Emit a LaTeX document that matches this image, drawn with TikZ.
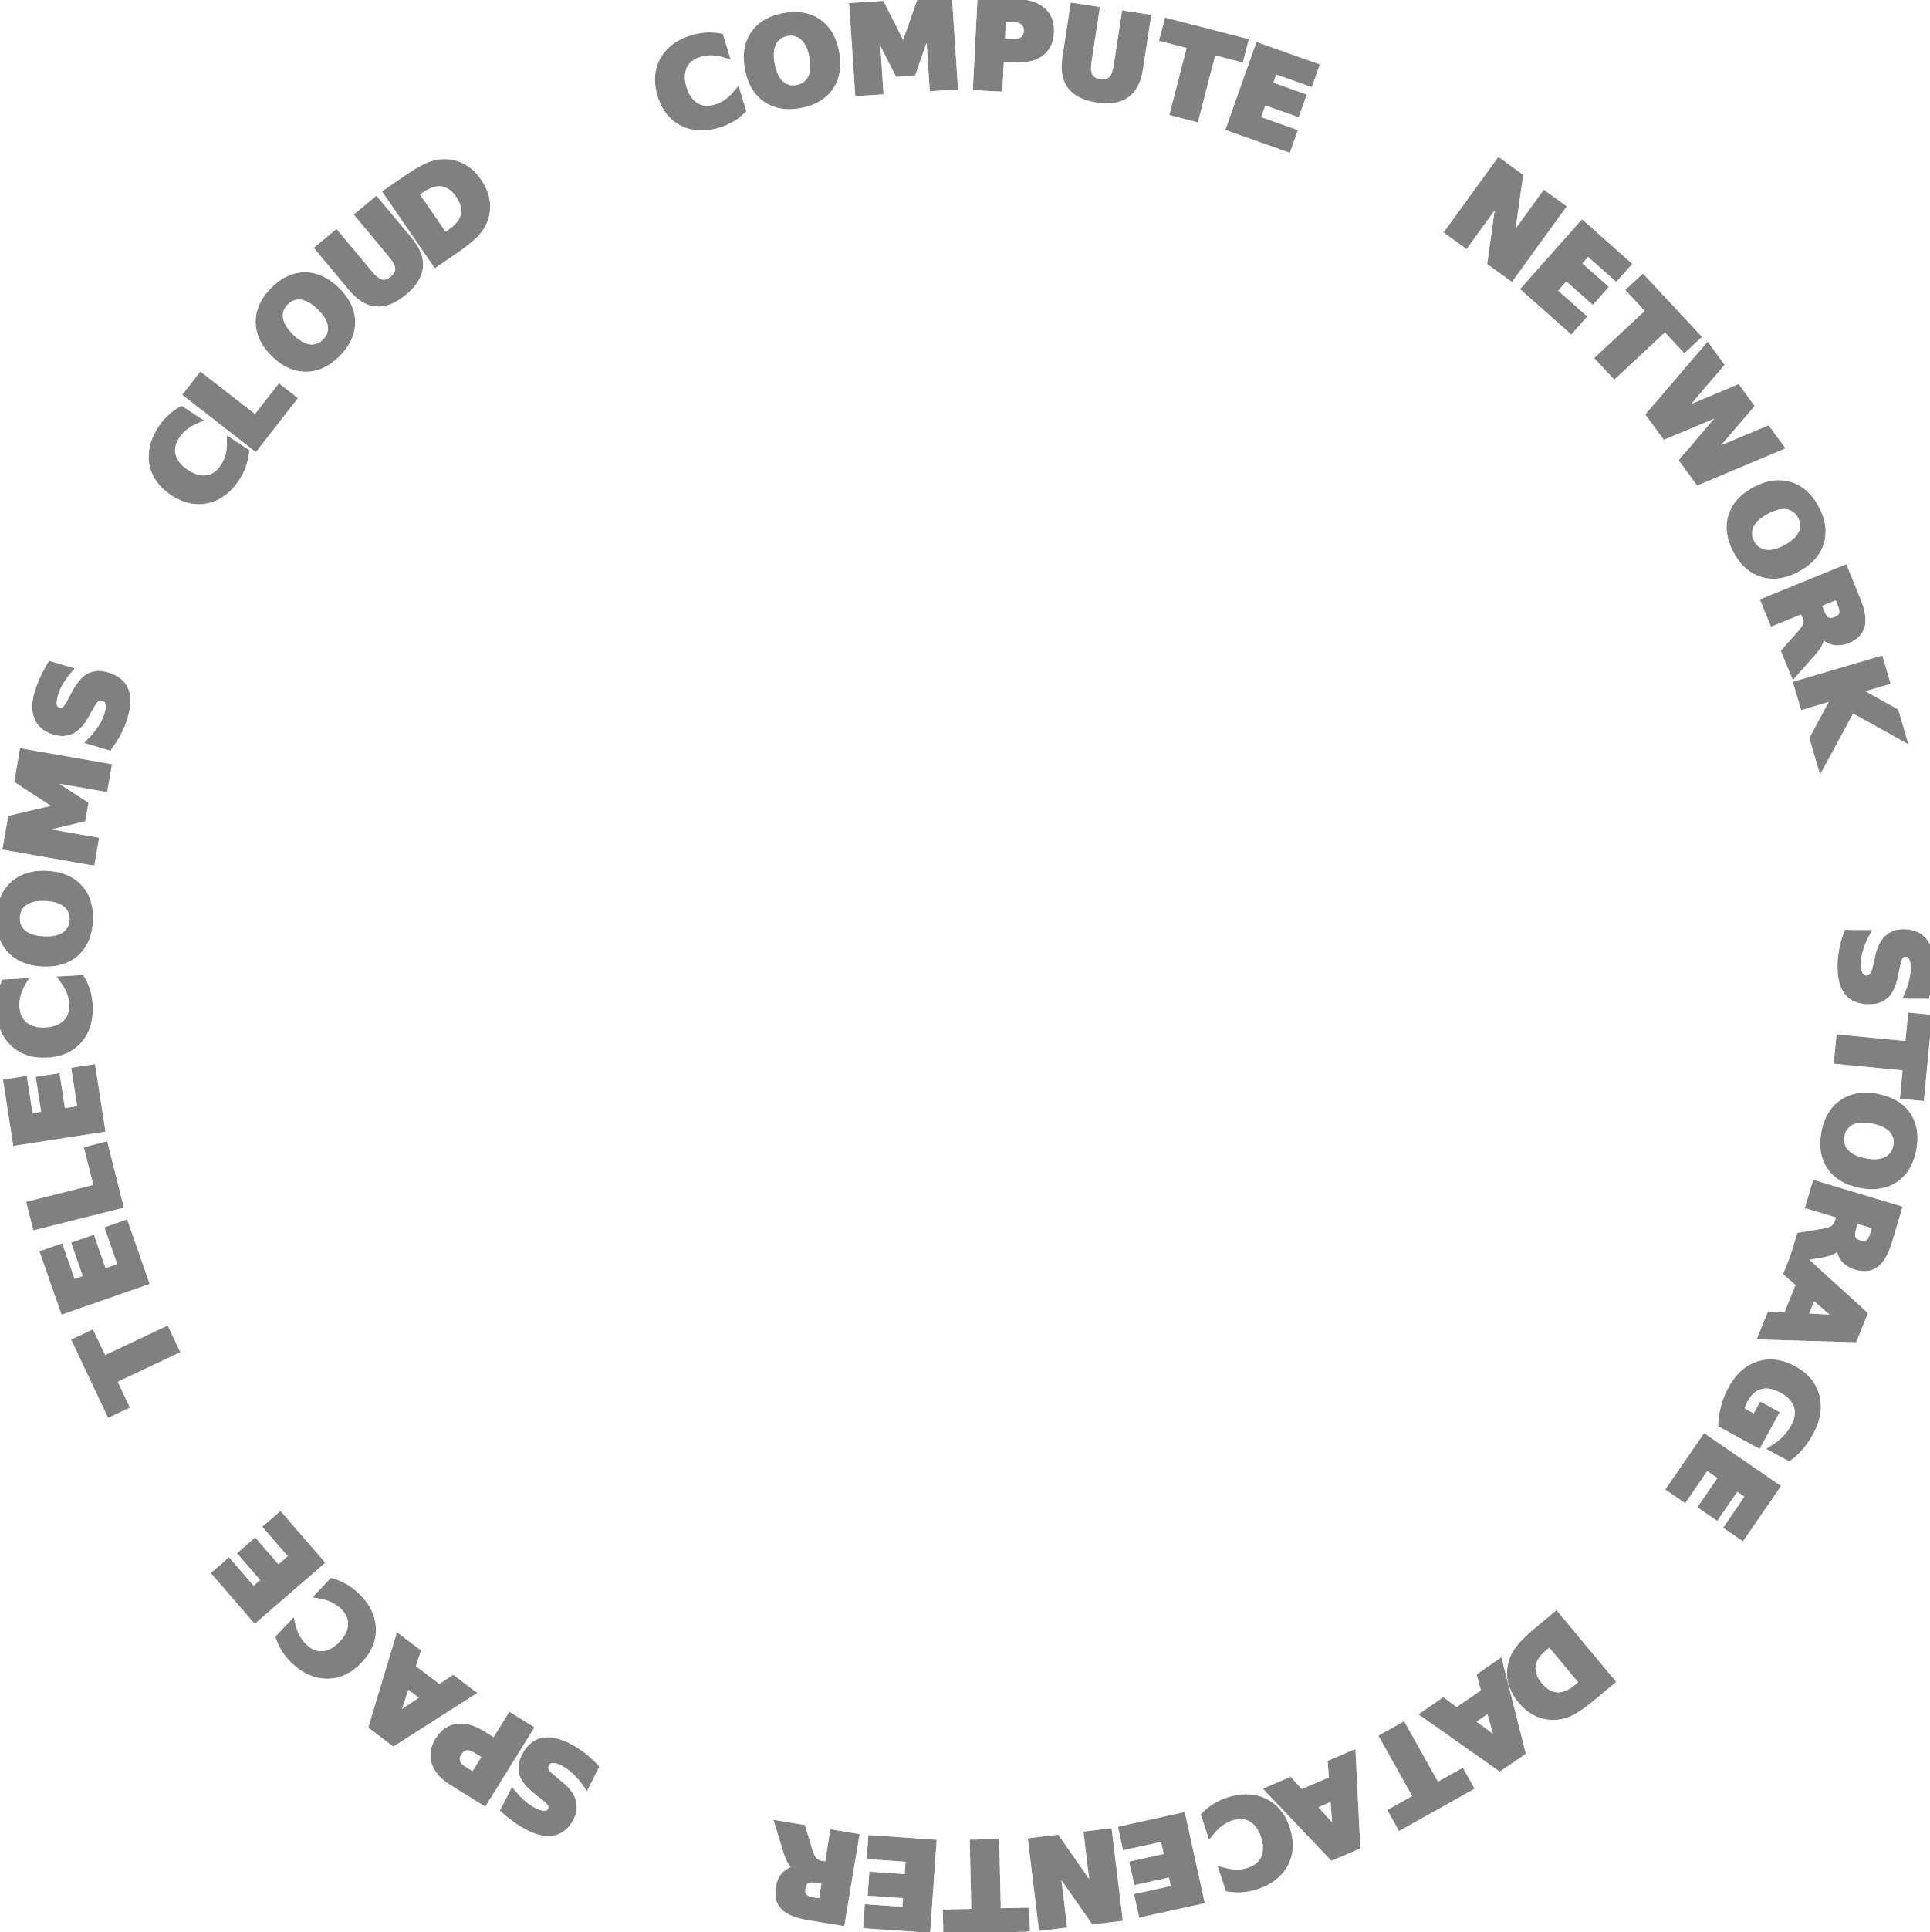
\documentclass[tikz,border=0pt]{standalone}
\usepackage{fontspec}
\newfontfamily\ringfont{DejaVu Sans Bold}[FakeBold=6]
\definecolor{ringgray}{RGB}{128,128,128}
\begin{document}
\begin{tikzpicture}
\useasboundingbox (0,0) rectangle (25,25.04);
\coordinate (ctr) at (12.5,12.53);
\tikzset{letter/.style={anchor=base, inner sep=0pt, outer sep=0pt, text=ringgray, font=\ringfont\fontsize{43.5}{43.5}\selectfont}}
\begin{scope}[shift={(ctr)}]
\foreach \ch/\ang [count=\i] in {
  C/106.9, O/100.8, M/93.8, P/87.1, U/81.3, T/75.5, E/70.5,
  N/54.07, E/48.43, T/43.0, W/36.1, O/28.24, R/22.2, K/16.37,
  S/-0.1, T/-5.5, O/-11.0, R/-16.7, A/-22.0, G/-28.65, E/-34.5,
  D/-50.2, A/-55.5, T/-60.8, A/-66.8, C/-71.9, E/-77.6, N/-83.1, T/-88.7, E/-94.0, R/-99.4,
  S/-116.9, P/-121.8, A/-127.1, C/-133.4, E/-139.1,
  T/205.3, E/199.2, L/194.1, E/188.8, C/183.2, O/177.1, M/170.1, S/163.5,
  C/146.8, L/142.1, O/135.7, U/129.8, D/124.5}
  \node[letter, rotate=\ang-90] (l\i) at (\ang:11.38) {\ch};
\end{scope}
\end{tikzpicture}
\end{document}
